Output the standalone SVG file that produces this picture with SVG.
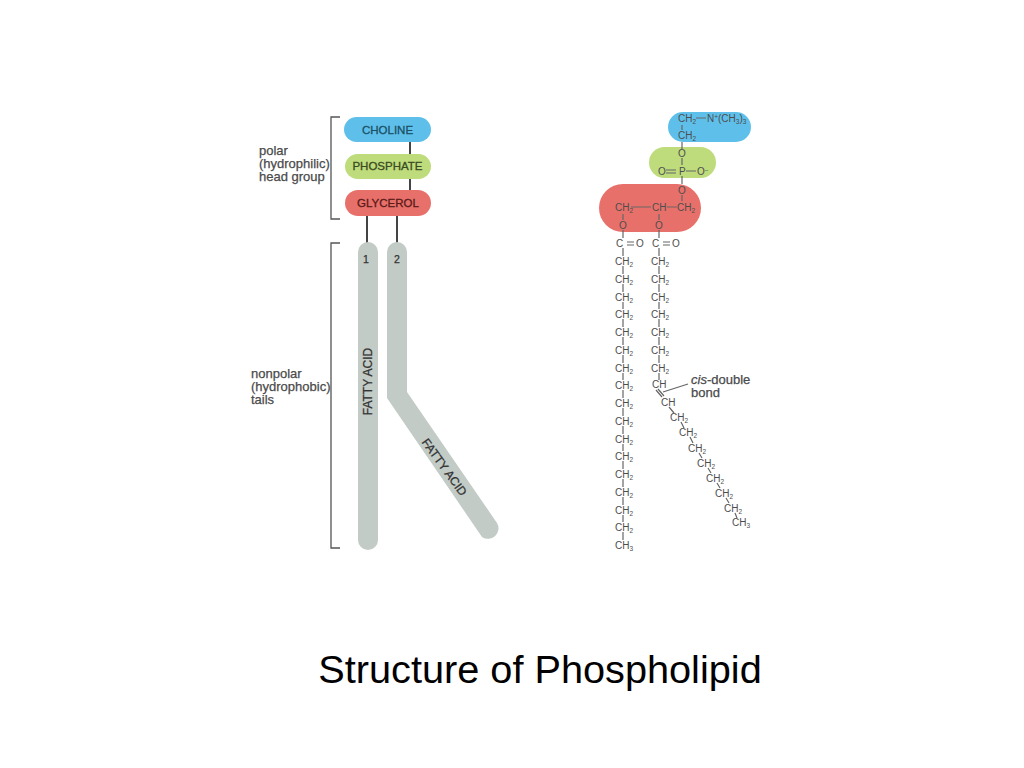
<svg xmlns="http://www.w3.org/2000/svg" width="1024" height="768" viewBox="0 0 1024 768">
<style>
text{font-family:"Liberation Sans",Arial,sans-serif}
.lab{font-size:13px;fill:#4a4a4a;stroke:#4a4a4a;stroke-width:.25px}
.nm{font-size:11.500px;text-anchor:middle;stroke-width:.3px}
.fa{font-size:12px;text-anchor:middle;fill:#333;stroke:#333;stroke-width:.25px}
.ch{font-size:10px;fill:#4d4d4d}
.sub{font-size:6.500px}
.br{fill:none;stroke:#555;stroke-width:1.300}
.bd{fill:none;stroke:#444;stroke-width:2}
.cb{fill:none;stroke:#666;stroke-width:1.200}
</style>
<defs>
<g id="ch2"><text class="ch" x="-8" y="3.500">CH<tspan class="sub" dy="2">2</tspan></text></g>
</defs>
<rect width="1024" height="768" fill="#fff"/>
<g id="connectors">
<path class="br" d="M340 117H331V219H340M340 243H331V548H340"/>
<path class="bd" d="M410 142V154M410 178V190M367 216V243M397 216V243"/>
<path class="cb" d="M663 392L688 384"/>
</g>
<g id="tail1"><path d="M358 252a10 10 0 0 1 20 0V540a10 10 0 0 1-20 0Z" fill="#c2cbc5"/>
<text class="fa" x="366" y="263" style="font-size:10.500px">1</text>
<text class="fa" transform="translate(372 381.500) rotate(-90)">FATTY ACID</text></g>
<g id="tail2"><path d="M387 252a10 10 0 0 1 20 0V392L497 523a10.500 10.500 0 0 1-15 14L387 398Z" fill="#c2cbc5"/>
<text class="fa" x="397" y="263" style="font-size:10.500px">2</text>
<text class="fa" transform="translate(441 469.500) rotate(54)">FATTY ACID</text></g>
<g id="choline"><rect x="344" y="117" width="87" height="25" rx="12.500" fill="#5ec0ea"/><text class="nm" x="387.500" y="134" fill="#1b4f66" stroke="#1b4f66">CHOLINE</text></g>
<g id="phosphate"><rect x="345" y="154" width="86" height="25" rx="12.500" fill="#bedc7c"/><text class="nm" x="387.500" y="170" fill="#3a4a20" stroke="#3a4a20">PHOSPHATE</text></g>
<g id="glycerol"><rect x="345" y="190" width="86" height="26" rx="13" fill="#e8706a"/><text class="nm" x="388" y="207" fill="#5a1a18" stroke="#5a1a18">GLYCEROL</text></g>
<g id="labels">
<text class="lab" x="259" y="155">polar</text><text class="lab" x="259" y="168">(hydrophilic)</text><text class="lab" x="259" y="181">head group</text>
<text class="lab" x="251" y="378">nonpolar</text><text class="lab" x="251" y="391">(hydrophobic)</text><text class="lab" x="251" y="404">tails</text>
<text class="lab" x="691" y="384"><tspan font-style="italic">cis</tspan>-double</text><text class="lab" x="691" y="397">bond</text>
</g>
<g id="chem-blobs">
<rect x="668" y="112" width="83" height="30" rx="15" fill="#5ec0ea"/>
<rect x="649" y="147" width="67" height="31" rx="15.500" fill="#bedc7c"/>
<rect x="599" y="184" width="102" height="48" rx="24" fill="#e8706a"/>
</g>
<g id="chem-bonds">
<path class="cb" d="M682 125V130M682 142V149M682 158V165M682 176V184M682 195V201M623 214V220M623 230V238M623 248V256M659 214V220M659 230V238M659 248V256M623 266V274M623 284V292M623 302V309M623 319V327M623 337V345M623 355V363M623 373V380M623 390V398M623 408V416M623 426V434M623 444V451M623 461V469M623 479V487M623 497V505M623 515V522M623 532V540M659 266V274M659 284V292M659 302V309M659 319V327M659 337V345M659 355V363M659 373V380M656 390L662 397M658 389L664 396M669 407L674 413M681 422L684 428M690 437L693 443M699 453L702 458M708 468L711 473M717 483L720 488M726 498L729 503M735 513L737 518M696 118H706M631 207H651M667 207H677M627 242H634M627 245H634M663 242H670M663 245H670M666 170H676M666 173H676M686 171H696"/>
</g>
<g id="chem-text">
<text class="ch" x="678" y="122">CH<tspan class="sub" dy="2">2</tspan></text>
<text class="ch" x="707" y="122">N<tspan class="sub" dy="-3">+</tspan><tspan dy="3">(CH</tspan><tspan class="sub" dy="2">3</tspan><tspan dy="-2">)</tspan><tspan class="sub" dy="2">3</tspan></text>
<text class="ch" x="678" y="139">CH<tspan class="sub" dy="2">2</tspan></text>
<text class="ch" x="678" y="157">O</text>
<text class="ch" x="658" y="175">O</text><text class="ch" x="679" y="175">P</text><text class="ch" x="697" y="175">O<tspan class="sub" dy="-2">−</tspan></text>
<text class="ch" x="678" y="194">O</text>
<text class="ch" x="615" y="211">CH<tspan class="sub" dy="2">2</tspan></text>
<text class="ch" x="652" y="211">CH</text>
<text class="ch" x="677" y="211">CH<tspan class="sub" dy="2">2</tspan></text>
<text class="ch" x="619" y="229">O</text><text class="ch" x="655" y="229">O</text>
<text class="ch" x="616" y="247">C</text><text class="ch" x="636" y="247">O</text>
<text class="ch" x="652" y="247">C</text><text class="ch" x="672" y="247">O</text>
<use href="#ch2" x="623" y="261"/><use href="#ch2" x="623" y="279"/><use href="#ch2" x="623" y="297"/><use href="#ch2" x="623" y="314"/><use href="#ch2" x="623" y="332"/><use href="#ch2" x="623" y="350"/><use href="#ch2" x="623" y="368"/><use href="#ch2" x="623" y="385"/><use href="#ch2" x="623" y="403"/><use href="#ch2" x="623" y="421"/><use href="#ch2" x="623" y="439"/><use href="#ch2" x="623" y="456"/><use href="#ch2" x="623" y="474"/><use href="#ch2" x="623" y="492"/><use href="#ch2" x="623" y="510"/><use href="#ch2" x="623" y="527"/>
<text class="ch" x="615" y="549">CH<tspan class="sub" dy="2">3</tspan></text>
<use href="#ch2" x="659" y="261"/><use href="#ch2" x="659" y="279"/><use href="#ch2" x="659" y="297"/><use href="#ch2" x="659" y="314"/><use href="#ch2" x="659" y="332"/><use href="#ch2" x="659" y="350"/><use href="#ch2" x="659" y="368"/>
<text class="ch" x="652" y="388">CH</text>
<text class="ch" x="661" y="406">CH</text>
<use href="#ch2" x="678" y="417"/><use href="#ch2" x="687" y="432"/><use href="#ch2" x="696" y="448"/><use href="#ch2" x="705" y="463"/><use href="#ch2" x="714" y="478"/><use href="#ch2" x="723" y="493"/><use href="#ch2" x="732" y="508"/>
<text class="ch" x="732" y="526">CH<tspan class="sub" dy="2">3</tspan></text>
</g>
<text id="title" x="540" y="683" text-anchor="middle" font-size="39.700" fill="#000">Structure of Phospholipid</text>
</svg>
